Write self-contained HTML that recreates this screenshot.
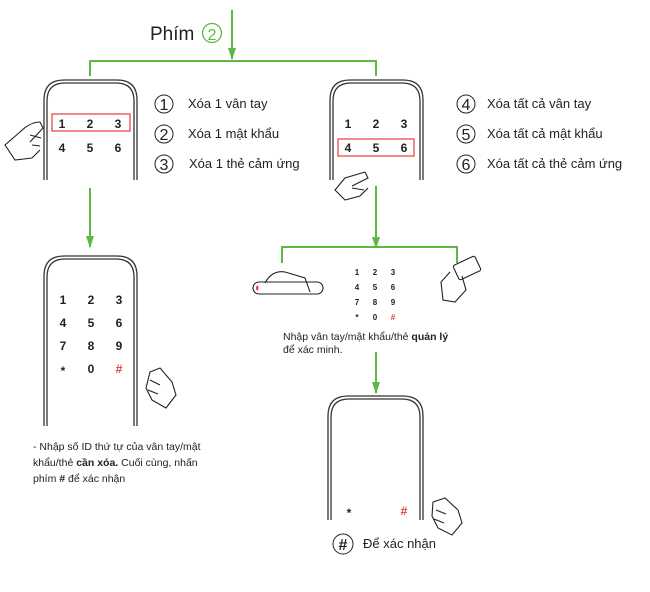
<!DOCTYPE html>
<html><head><meta charset="utf-8"><style>
body{margin:0;background:#fff}
svg text{font-family:"Liberation Sans",sans-serif}
</style></head><body>
<svg width="650" height="587" viewBox="0 0 650 587" xmlns="http://www.w3.org/2000/svg">
<defs>
<marker id="a" markerWidth="12" markerHeight="8" refX="11" refY="4" orient="auto" markerUnits="userSpaceOnUse"><path d="M0,0 L12,4 L0,8 Z" fill="#5db944"/></marker>
</defs>
<g stroke="#5db944" stroke-width="2" fill="none">
<line x1="232" y1="10" x2="232" y2="59" marker-end="url(#a)"/>
<polyline points="90,76 90,61 376,61 376,76"/>
<line x1="90" y1="188" x2="90" y2="247" marker-end="url(#a)"/>
<line x1="376" y1="186" x2="376" y2="248" marker-end="url(#a)"/>
<polyline points="282,263 282,247 457,247 457,263"/>
<line x1="376" y1="352" x2="376" y2="393" marker-end="url(#a)"/>
</g>
<g fill="none" stroke="#333" stroke-width="1.3">
<path d="M44,180 V100 Q44,80 64,80 H117 Q137,80 137,100 V180"/>
<path d="M47,180 V101 Q47,83 65,83 H116 Q134,83 134,101 V180"/>
<path d="M330,180 V100 Q330,80 350,80 H403 Q423,80 423,100 V180"/>
<path d="M333,180 V101 Q333,83 351,83 H402 Q420,83 420,101 V180"/>
<path d="M44,426 V276 Q44,256 64,256 H117 Q137,256 137,276 V426"/>
<path d="M47,426 V277 Q47,259 65,259 H116 Q134,259 134,277 V426"/>
<path d="M328,520 V416 Q328,396 348,396 H403 Q423,396 423,416 V520"/>
<path d="M331,520 V417 Q331,399 349,399 H402 Q420,399 420,417 V520"/>
</g>
<rect x="52" y="114" width="78" height="17" fill="none" stroke="#e53b3b" stroke-width="1.2"/>
<rect x="338" y="139" width="76" height="17" fill="none" stroke="#e53b3b" stroke-width="1.2"/>
<g font-size="12" font-weight="bold" fill="#222" text-anchor="middle">
<text x="62" y="128">1</text><text x="90" y="128">2</text><text x="118" y="128">3</text>
<text x="62" y="152">4</text><text x="90" y="152">5</text><text x="118" y="152">6</text>
<text x="348" y="128">1</text><text x="376" y="128">2</text><text x="404" y="128">3</text>
<text x="348" y="152">4</text><text x="376" y="152">5</text><text x="404" y="152">6</text>
<text x="63" y="304">1</text><text x="91" y="304">2</text><text x="119" y="304">3</text>
<text x="63" y="327">4</text><text x="91" y="327">5</text><text x="119" y="327">6</text>
<text x="63" y="350">7</text><text x="91" y="350">8</text><text x="119" y="350">9</text>
<text x="63" y="375">*</text><text x="91" y="373">0</text><text x="119" y="373" fill="#e53b3b">#</text>
<text x="349" y="517">*</text><text x="404" y="515" fill="#e53b3b">#</text>
</g>
<g font-size="8" font-weight="bold" fill="#222" text-anchor="middle">
<text x="357" y="275">1</text><text x="375" y="275">2</text><text x="393" y="275">3</text>
<text x="357" y="290">4</text><text x="375" y="290">5</text><text x="393" y="290">6</text>
<text x="357" y="305">7</text><text x="375" y="305">8</text><text x="393" y="305">9</text>
<text x="357" y="320">*</text><text x="375" y="320">0</text><text x="393" y="320" fill="#e53b3b">#</text>
</g>
<text x="150" y="40" font-size="19" fill="#222">Phím</text>
<circle cx="212" cy="33" r="9.5" fill="none" stroke="#5db944" stroke-width="1.3"/>
<text x="212" y="40" font-size="16" fill="#5db944" text-anchor="middle">2</text>
<g font-size="13" fill="#222">
<g fill="none" stroke="#222" stroke-width="1"><circle cx="164" cy="104" r="9"/><circle cx="164" cy="134" r="9"/><circle cx="164" cy="164" r="9"/>
<circle cx="466" cy="104" r="9"/><circle cx="466" cy="134" r="9"/><circle cx="466" cy="164" r="9"/><circle cx="343" cy="544" r="10"/></g>
<g font-size="16" text-anchor="middle"><text x="164" y="110">1</text><text x="164" y="140">2</text><text x="164" y="170">3</text>
<text x="466" y="110">4</text><text x="466" y="140">5</text><text x="466" y="170">6</text><text x="343" y="550" font-weight="bold">#</text></g>
<text x="188" y="108">Xóa 1 vân tay</text><text x="188" y="138">Xóa 1 mật khẩu</text><text x="189" y="168">Xóa 1 thẻ cảm ứng</text>
<text x="487" y="108">Xóa tất cả vân tay</text><text x="487" y="138">Xóa tất cả mật khẩu</text><text x="487" y="168">Xóa tất cả thẻ cảm ứng</text>
<text x="363" y="548">Để xác nhận</text>
</g>
<g font-size="10.5" fill="#222">
<text x="283" y="340">Nhập vân tay/mật khẩu/thẻ <tspan font-weight="bold">quản lý</tspan></text>
<text x="283" y="353">để xác minh.</text>
<text x="33" y="450">- Nhập số ID thứ tự của vân tay/mật</text>
<text x="33" y="466">khẩu/thẻ <tspan font-weight="bold">cần xóa.</tspan> Cuối cùng, nhấn</text>
<text x="33" y="482">phím <tspan font-weight="bold">#</tspan> để xác nhận</text>
</g>
<g fill="none" stroke="#222" stroke-width="1.1">
<path d="M40,122 Q30,122 20,132 L5,145 L15,160 L32,158 L40,150 M40,122 L43,128 L30,142 M30,135 L41,138 M32,145 L40,146"/>
<path d="M365,172 L345,178 L335,190 L345,200 L360,196 L368,188 M365,172 L368,178 L352,186 M352,188 L364,190"/>
<path d="M150,372 L160,368 L172,382 L176,395 L166,408 L152,400 L146,388 Z M150,380 L160,385 M148,390 L158,394"/>
<path d="M433,502 L445,498 L458,510 L462,523 L452,535 L438,528 L432,516 Z M436,510 L446,514 M434,519 L444,523"/>
<rect x="253" y="282" width="70" height="12" rx="6"/>
<path d="M258,286 Q256,288 258,290" stroke="#e53b3b" stroke-width="2"/>
<path d="M265,283 Q272,270 285,272 L305,278 L310,292"/>
<rect x="455" y="260" width="24" height="16" rx="2" transform="rotate(-25 467 268)"/>
<path d="M450,272 L441,282 L443,300 L455,302 L466,290 L462,276"/>
</g>
</svg>
</body></html>
